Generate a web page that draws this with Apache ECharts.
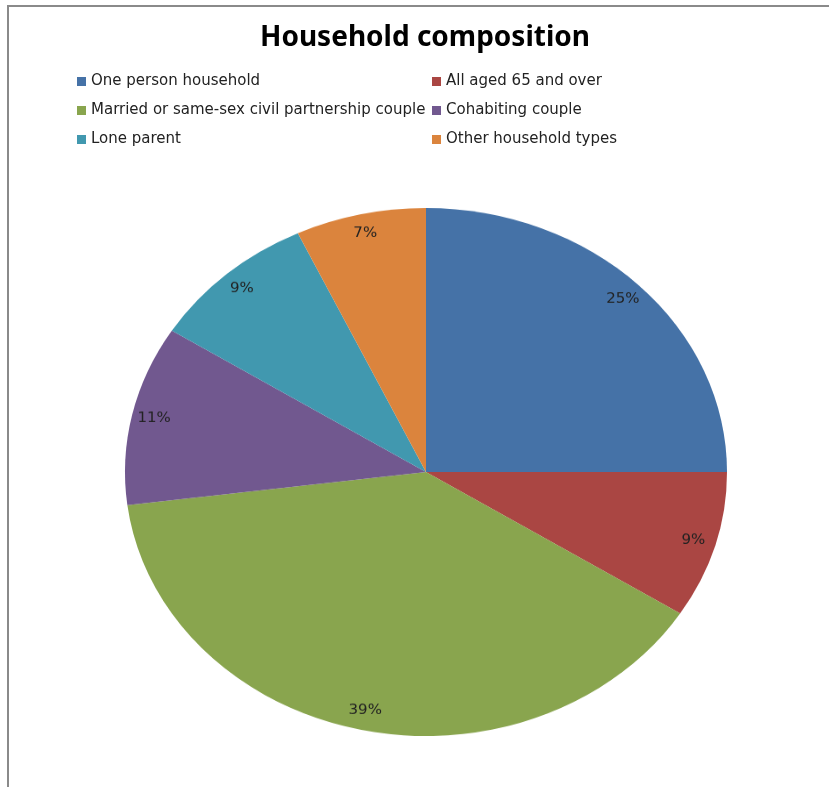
<!DOCTYPE html>
<html>
<head>
<meta charset="utf-8">
<script src="https://cdn.jsdelivr.net/npm/echarts@6/dist/echarts.min.js"></script>
<style>
  html, body { margin: 0; padding: 0; background: #fff; }
  #wrap { position: relative; width: 829px; height: 787px; overflow: hidden; }
  #base { position: absolute; left: 0; top: 0; width: 829px; height: 787px; }
  #pie { position: absolute; left: 0; top: 0; width: 829px; height: 787px;
         transform: scaleY(0.877); transform-origin: 0 472px; }
</style>
</head>
<body>
<div id="wrap">
  <div id="base"></div>
  <div id="pie"></div>
</div>
<script>
// ---- data ----
const titleText = 'Household composition';
const categories = [
  'One person household',
  'All aged 65 and over',
  'Married or same-sex civil partnership couple',
  'Cohabiting couple',
  'Lone parent',
  'Other household types'
];
const percentValues = [25, 9, 39, 11, 9, 7];
const legendLeftColumn = ['One person household', 'Married or same-sex civil partnership couple', 'Lone parent'];
const legendRightColumn = ['All aged 65 and over', 'Cohabiting couple', 'Other household types'];
const sliceColors = ['#4572A7', '#AA4643', '#89A54E', '#71588F', '#4198AF', '#DB843D'];

const pieData = categories.map((name, i) => ({
  name: name,
  value: percentValues[i],
  itemStyle: { color: sliceColors[i] }
}));

const legendFont = { fontFamily: 'DejaVu Sans', fontSize: 15, color: '#222', lineHeight: 17 };

// ---- base chart: title, legend, frame ----
const base = echarts.init(document.getElementById('base'), null, { renderer: 'canvas' });
base.setOption({
  animation: false,
  backgroundColor: 'transparent',
  title: {
    text: titleText,
    left: 425,
    textAlign: 'center',
    top: 24,
    padding: 0,
    textStyle: { fontFamily: 'Noto Sans', fontWeight: 'bold', fontSize: 28, color: '#000' }
  },
  legend: [
    {
      data: legendLeftColumn,
      orient: 'vertical',
      left: 77, top: 73,
      padding: 0,
      itemWidth: 9, itemHeight: 9, itemGap: 12,
      icon: 'rect',
      selectedMode: false,
      textStyle: legendFont
    },
    {
      data: legendRightColumn,
      orient: 'vertical',
      left: 432, top: 73,
      padding: 0,
      itemWidth: 9, itemHeight: 9, itemGap: 12,
      icon: 'rect',
      selectedMode: false,
      textStyle: legendFont
    }
  ],
  graphic: [
    { type: 'line', shape: { x1: 7, y1: 6, x2: 829, y2: 6 }, style: { stroke: '#8a8a8a', lineWidth: 2 }, silent: true },
    { type: 'line', shape: { x1: 8, y1: 6, x2: 8, y2: 787 }, style: { stroke: '#8a8a8a', lineWidth: 2 }, silent: true }
  ],
  series: [{
    type: 'pie',
    radius: [0, 0],
    center: [426, 472],
    silent: true,
    label: { show: false },
    labelLine: { show: false },
    data: pieData
  }]
});

// ---- pie chart (scaled vertically into an ellipse via CSS) ----
const pie = echarts.init(document.getElementById('pie'), null, { renderer: 'canvas' });
pie.setOption({
  animation: false,
  backgroundColor: 'transparent',
  series: [
    {
      type: 'pie',
      center: [426, 472],
      radius: [0, 301],
      startAngle: 90,
      clockwise: true,
      silent: true,
      label: { show: false },
      labelLine: { show: false },
      itemStyle: { borderWidth: 0 },
      data: pieData
    },
    {
      type: 'pie',
      center: [426, 472],
      radius: [250, 301],
      startAngle: 90,
      clockwise: true,
      silent: true,
      itemStyle: { color: 'rgba(0,0,0,0)', borderWidth: 0 },
      label: {
        show: true,
        position: 'inside',
        formatter: '{c}%',
        fontFamily: 'DejaVu Sans',
        fontSize: 15,
        color: '#222'
      },
      labelLine: { show: false },
      data: categories.map((name, i) => ({ name: name, value: percentValues[i] }))
    }
  ]
});
</script>
</body>
</html>
